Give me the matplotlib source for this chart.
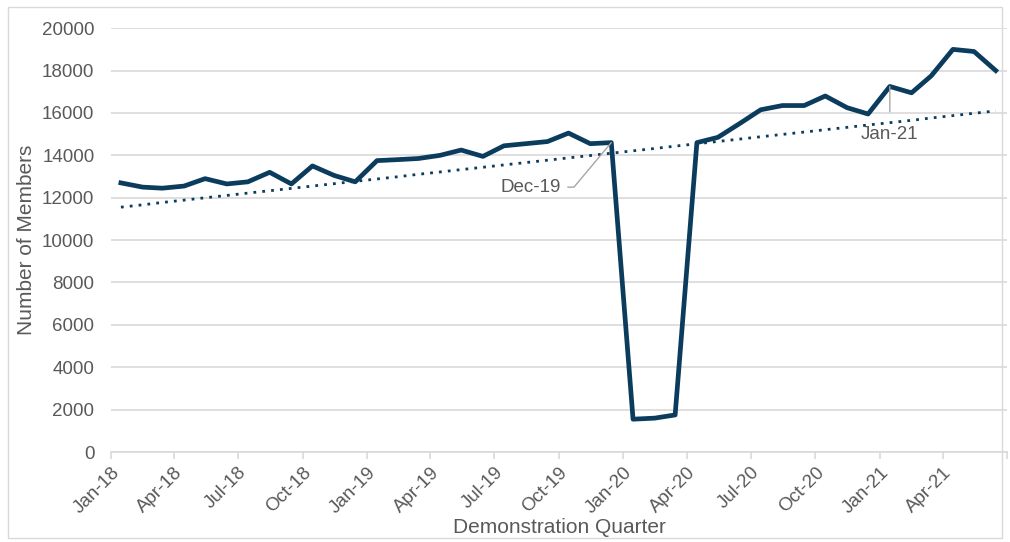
import numpy as np
import pandas as pd
import matplotlib
matplotlib.use("Agg")
import matplotlib.pyplot as plt
import matplotlib.dates as mdates

plt.rcParams["font.family"] = ["Liberation Sans", "DejaVu Sans"]

# Monthly membership, Jan-18 to Jun-21
months = pd.date_range("2018-01-01", "2021-06-01", freq="MS")
members = [12700, 12500, 12450, 12550, 12900, 12650, 12750, 13200, 12650, 13500,
           13050, 12750, 13750, 13800, 13850, 14000, 14250, 13950, 14450, 14550,
           14650, 15050, 14550, 14600, 1550, 1600, 1750, 14600, 14850, 15500,
           16150, 16350, 16350, 16800, 16250, 15950, 17250, 16950, 17750, 19000,
           18900, 18000]
callouts = ["Dec-19", "Jan-21"]

navy = "#0b3c5d"
grey = "#595959"

# points sit in the middle of each month
x = months + pd.Timedelta(days=14)
xn = mdates.date2num(x)

fig = plt.figure(figsize=(10.1, 5.42), dpi=100)
ax = fig.add_axes([0.11, 0.166, 0.887, 0.782])

ax.plot(x, members, color=navy, lw=3.4, solid_joinstyle="round", zorder=3)

# linear trendline
k, b = np.polyfit(np.arange(len(members)), members, 1)
trend = k * np.arange(len(members)) + b
ax.plot(x, trend, color=navy, lw=2, linestyle=(0, (1, 2.2)), zorder=2)

ax.set_ylim(0, 20000)
ax.set_xlim(mdates.date2num(pd.Timestamp("2018-01-01")), mdates.date2num(pd.Timestamp("2021-07-01")))
ax.set_yticks(range(0, 20001, 2000))
ax.yaxis.grid(True, color="#d9d9d9", lw=1.2)
ax.set_axisbelow(True)

# quarterly ticks, the closing Jul-21 tick carries no label
qticks = pd.date_range("2018-01-01", "2021-07-01", freq="QS")
qlabels = list(qticks.strftime("%b-%y"))
qlabels[-1] = ""
ax.set_xticks(mdates.date2num(qticks))
ax.set_xticklabels(qlabels, rotation=45, ha="right", rotation_mode="anchor")

for s in ["top", "right", "left"]:
    ax.spines[s].set_visible(False)
ax.spines["bottom"].set_color("#d9d9d9")
ax.spines["bottom"].set_linewidth(1.2)
ax.tick_params(axis="y", length=0, labelsize=13.5, labelcolor=grey, pad=12)
ax.tick_params(axis="x", length=5, color="#d9d9d9", width=1.2, labelsize=13.5, labelcolor=grey)

ax.set_xlabel("Demonstration Quarter", fontsize=15, color=grey, labelpad=1)
ax.set_ylabel("Number of Members", fontsize=15, color=grey, labelpad=4)

# callouts with leader lines
i = list(months.strftime("%b-%y")).index(callouts[0])
ax.annotate(callouts[0], xy=(xn[i], members[i]), xytext=(xn[i] - 72, 12500),
            fontsize=13.5, color=grey, ha="right", va="center",
            arrowprops=dict(arrowstyle="-", color="#a6a6a6", lw=1,
                            connectionstyle="angle,angleA=0,angleB=50,rad=0",
                            shrinkA=3, shrinkB=0))
j = list(months.strftime("%b-%y")).index(callouts[1])
ax.annotate(callouts[1], xy=(xn[j], members[j]), xytext=(xn[j], 15000),
            fontsize=13.5, color=grey, ha="center", va="center",
            arrowprops=dict(arrowstyle="-", color="#a6a6a6", lw=1,
                            shrinkA=8, shrinkB=0))

fig.patches.append(plt.Rectangle((0.008, 0.008), 0.984, 0.98, transform=fig.transFigure,
                                 fill=False, edgecolor="#d9d9d9", lw=1))

fig.savefig("out.png", dpi=100)
